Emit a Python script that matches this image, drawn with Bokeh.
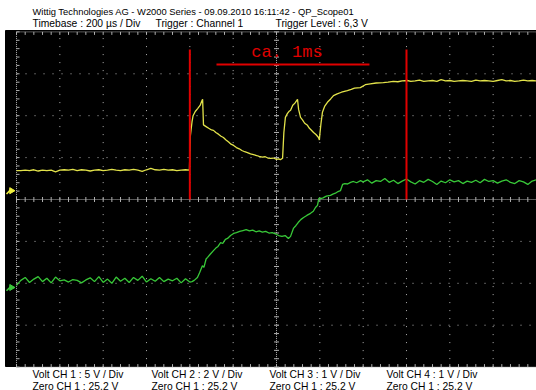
from bokeh.plotting import figure
from bokeh.models import Range1d
from bokeh.core.properties import value
from bokeh.embed import file_html
from bokeh.resources import INLINE
import math

# ---------------- data (time in µs, amplitude in screen divisions) ----------------
ch1_t = [-1200, -1180, -1160, -1140, -1120, -1100, -1080, -1060, -1040, -1020, -1000,
         -980, -960, -940, -920, -900, -880, -860, -840, -820, -800, -780, -760, -740,
         -720, -700, -680, -660, -640, -620, -600, -580, -560, -540, -520, -500, -480,
         -460, -440, -420, -402,
         -398, -390, -385, -375, -364, -352, -345, -341,
         -337, -325, -313, -300, -291, -280, -268, -256, -245, -233, -221, -210, -198,
         -185, -172, -160, -147, -134, -120, -106, -92, -80, -66, -52, -40, -26, -14,
         0, 10, 18, 26,
         28, 34, 41, 50, 57, 65, 75, 85, 97,
         102, 111, 120, 130, 143, 152, 160, 171, 182, 194, 198,
         200, 205, 212, 222, 235, 250, 263, 280, 300, 327, 345, 360, 387, 410, 433, 460,
         493, 515, 539, 560, 580, 604, 620, 640, 660, 680, 700, 720, 740, 760, 780, 800,
         820, 840, 860, 880, 900, 920, 940, 960, 980, 1000, 1020, 1040, 1060, 1080, 1100,
         1120, 1140, 1160, 1180, 1200]
ch1_v = [0.69, 0.69, 0.70, 0.69, 0.71, 0.68, 0.70, 0.69, 0.70, 0.66, 0.70,
         0.71, 0.70, 0.72, 0.69, 0.71, 0.70, 0.68, 0.70, 0.71, 0.69, 0.70, 0.72, 0.70,
         0.69, 0.71, 0.70, 0.72, 0.70, 0.67, 0.71, 0.74, 0.71, 0.70, 0.72, 0.70, 0.71,
         0.69, 0.70, 0.71, 0.70,
         1.50, 1.85, 2.00, 2.10, 2.17, 2.25, 2.35, 2.39,
         1.78, 1.74, 1.70, 1.66, 1.65, 1.60, 1.56, 1.51, 1.48, 1.42, 1.37, 1.32, 1.29,
         1.24, 1.21, 1.17, 1.14, 1.12, 1.09, 1.07, 1.05, 1.03, 1.01, 1.02, 0.99, 0.98, 0.99,
         0.96, 0.97, 0.95, 0.98,
         0.98, 1.60, 1.96, 2.05, 2.10, 2.13, 2.25, 2.30, 2.39,
         2.15, 1.96, 1.90, 1.82, 1.77, 1.70, 1.66, 1.60, 1.55, 1.48, 1.42,
         1.55, 1.80, 2.08, 2.22, 2.32, 2.40, 2.48, 2.52, 2.56, 2.60, 2.63, 2.66, 2.67, 2.74,
         2.76, 2.78, 2.79, 2.80, 2.82, 2.81, 2.83, 2.84, 2.82, 2.83, 2.85, 2.82, 2.83, 2.84,
         2.82, 2.86, 2.83, 2.84, 2.82, 2.83, 2.84, 2.83, 2.82, 2.85, 2.83, 2.84, 2.83, 2.82,
         2.84, 2.86, 2.83, 2.84, 2.82, 2.83, 2.85, 2.83, 2.84, 2.83]

ch2_t = [-1200, -1180, -1160, -1140, -1120, -1100, -1080, -1060, -1040, -1020, -1000,
         -980, -960, -940, -920, -900, -880, -860, -840, -820, -800, -780, -760, -740,
         -720, -700, -680, -660, -640, -620, -600, -580, -560, -540, -520, -500, -480,
         -460, -440, -420, -400,
         -390, -380, -365, -355, -342, -335, -325, -318, -305, -291, -280, -270, -258,
         -248, -236, -226, -212, -198, -185, -170, -155, -140, -125, -110, -95, -80, -65,
         -50, -35, -20, -5, 10, 25, 40, 55, 65, 78, 90, 100, 112, 125, 140, 157, 170, 180,
         189, 196, 203, 215, 230, 249, 260, 272, 284, 295, 305, 315, 328, 342, 355, 370,
         388, 400, 420, 440, 460, 480, 500, 520, 540, 560, 580, 600, 620, 640, 660, 680,
         700, 720, 740, 760, 780, 800, 820, 840, 860, 880, 900, 920, 940, 960, 980, 1000,
         1020, 1040, 1060, 1080, 1100, 1120, 1140, 1160, 1180, 1200]
ch2_v = [-2.05, -1.93, -1.86, -1.98, -1.90, -1.84, -1.96, -1.88, -1.99, -1.85, -1.94,
         -1.92, -1.97, -1.91, -1.93, -1.99, -1.92, -1.87, -1.96, -1.84, -1.98, -1.90, -2.00,
         -1.85, -1.95, -1.88, -1.98, -1.86, -1.93, -1.83, -1.97, -1.89, -1.95, -1.86, -1.96,
         -1.90, -1.94, -1.88, -1.99, -1.89, -1.97,
         -1.96, -1.93, -1.86, -1.75, -1.58, -1.62, -1.42, -1.38, -1.30, -1.22, -1.16, -1.12,
         -1.03, -1.05, -0.95, -0.93, -0.86, -0.81, -0.79, -0.76, -0.74, -0.72, -0.75, -0.73,
         -0.77, -0.75, -0.78, -0.76, -0.80, -0.79, -0.82, -0.86, -0.88, -0.86, -0.93, -0.88,
         -0.69, -0.62, -0.55, -0.48, -0.43, -0.38, -0.33, -0.28, -0.19,
         -0.14, 0.03, 0.02, 0.04, 0.08, 0.10, 0.13, 0.15, 0.19, 0.21, 0.36, 0.38, 0.37,
         0.41, 0.43, 0.40, 0.45, 0.42, 0.47, 0.39, 0.45, 0.43, 0.50, 0.41, 0.46, 0.38, 0.44,
         0.49, 0.42, 0.37, 0.45, 0.41, 0.48, 0.43, 0.36, 0.44, 0.40, 0.47, 0.42, 0.45, 0.38,
         0.44, 0.41, 0.46, 0.40, 0.48, 0.43, 0.45, 0.39, 0.44, 0.47, 0.41, 0.38, 0.45, 0.42,
         0.36, 0.44, 0.47]

cursor_t = [-400, 600]          # vertical red cursors (µs)
cursor_top = 3.58               # divisions
span_t = [-277, 429]            # red measurement bar (µs)
span_v = 3.22
span_label = "ca. 1ms"

title_line = "Wittig Technologies AG - W2000 Series  -  09.09.2010 16:11:42 - QP_Scope01"
header = ["Timebase : 200 µs / Div", "Trigger : Channel 1", "Trigger Level : 6,3 V"]
footer_volt = ["Volt CH 1 : 5 V / Div", "Volt CH 2 : 2 V / Div",
               "Volt CH 3 : 1 V / Div", "Volt CH 4 : 1 V / Div"]
footer_zero = ["Zero CH 1 : 25,2 V", "Zero CH 1 : 25,2 V",
               "Zero CH 1 : 25,2 V", "Zero CH 1 : 25,2 V"]
ref_marker_v = [0.21, -2.10]
ref_marker_color = ["#f0f040", "#3cc83c"]

# ---------------- layout helpers (pixel -> data) ----------------
W, H = 536, 390
CX, CY = 276.0, 199.0
PXDX, PXDY = 43.33, 41.9
US_DIV = 200


def tx(px):
    return (px - CX) / PXDX * US_DIV


def vy(py):
    return (CY - py) / PXDY


p = figure(width=W, height=H, x_range=Range1d(tx(0), tx(W)), y_range=Range1d(vy(H), vy(0)),
           output_backend="svg", toolbar_location=None, min_border=0,
           x_axis_type=None, y_axis_type=None)
p.grid.visible = False
p.outline_line_color = None
p.background_fill_color = "white"
p.border_fill_color = "white"

# black screen
p.quad(left=[tx(5)], right=[tx(537)], top=[vy(30)], bottom=[vy(366)], color="black")

GRID = "#b0b0b0"
div_x = [-1200 + 200 * i for i in range(13)]
div_v = list(range(-4, 5))

# regular dotted grid lines
vx = [t for t in div_x if t not in (-1200, 0, 1200)]
p.segment(x0=vx, y0=[-4] * len(vx), x1=vx, y1=[4] * len(vx), line_color=GRID,
          line_width=1, line_dash="1 7")
hv = [v for v in div_v if v not in (-4, 0, 4)]
p.segment(x0=[-1200] * len(hv), y0=hv, x1=[1200] * len(hv), y1=hv, line_color=GRID,
          line_width=1, line_dash="1 8")

# centre axes and borders (dense)
p.segment(x0=[-1200, 0, -1200, -1200, -1200], y0=[0, -4, -4, 4, -4],
          x1=[1200, 0, -1200, 1200, 1200], y1=[0, 4, 4, 4, -4],
          line_color=GRID, line_width=1, line_dash="1 1")

minor_x = [-1200 + 40 * i for i in range(61)]
minor_v = [-4 + 0.2 * i for i in range(41)]
tl_v = 2.5 / PXDY
tl_x = 2.5 / PXDX * US_DIV
# ticks on centre axes
p.segment(x0=minor_x, y0=[-tl_v] * len(minor_x), x1=minor_x, y1=[tl_v] * len(minor_x),
          line_color=GRID, line_width=1)
p.segment(x0=[-tl_x] * len(minor_v), y0=minor_v, x1=[tl_x] * len(minor_v), y1=minor_v,
          line_color=GRID, line_width=1)
# ticks on borders
p.segment(x0=minor_x, y0=[4] * len(minor_x), x1=minor_x, y1=[4 - 1.2 * tl_v] * len(minor_x),
          line_color=GRID, line_width=1)
p.segment(x0=minor_x, y0=[-4] * len(minor_x), x1=minor_x, y1=[-4 + 1.2 * tl_v] * len(minor_x),
          line_color=GRID, line_width=1)
p.segment(x0=[-1200] * len(minor_v), y0=minor_v, x1=[-1200 + 1.2 * tl_x] * len(minor_v),
          y1=minor_v, line_color=GRID, line_width=1)

# traces
p.line(ch2_t, ch2_v, line_color="#38c838", line_width=1.3)
p.line(ch1_t, ch1_v, line_color="#e2e24a", line_width=1.3)

# reference markers
p.scatter(x=[tx(11)] * 2, y=ref_marker_v, marker="triangle", size=6, angle=-math.pi / 2,
          fill_color=ref_marker_color, line_color=ref_marker_color)
p.segment(x0=[tx(6)] * 2, y0=[v - 0.08 for v in ref_marker_v], x1=[tx(10)] * 2,
          y1=[v + 0.02 for v in ref_marker_v], line_color=ref_marker_color, line_width=1.5)

# red cursors and span
p.segment(x0=cursor_t, y0=[0] * 2, x1=cursor_t, y1=[cursor_top] * 2,
          line_color="#e00000", line_width=2)
p.segment(x0=[span_t[0]], y0=[span_v], x1=[span_t[1]], y1=[span_v],
          line_color="#e00000", line_width=2)
p.text(x=[(span_t[0] + span_t[1]) / 2 - 28], y=[span_v + 0.29], text=[span_label],
       text_color="#e00000", text_font=value("Liberation Mono"),
       text_font_size=value("17px"), text_align="center", text_baseline="alphabetic")

# header / footer texts
p.text(x=[tx(32)], y=[vy(11)], text=[title_line], text_color="black",
       text_font=value("Liberation Sans"), text_font_size=value("9.4px"),
       text_baseline="alphabetic")
p.text(x=[tx(32), tx(155), tx(275)], y=[vy(23)] * 3, text=header, text_color="black",
       text_font=value("Liberation Sans"), text_font_size=value("10.3px"),
       text_baseline="alphabetic")
fx = [tx(32), tx(151), tx(269), tx(386)]
p.text(x=fx, y=[vy(374)] * 4, text=footer_volt, text_color="black",
       text_font=value("Liberation Sans"), text_font_size=value("10.3px"),
       text_baseline="alphabetic")
p.text(x=fx, y=[vy(385.5)] * 4, text=footer_zero, text_color="black",
       text_font=value("Liberation Sans"), text_font_size=value("10.3px"),
       text_baseline="alphabetic")

open("out.html", "w").write(file_html(p, INLINE))
